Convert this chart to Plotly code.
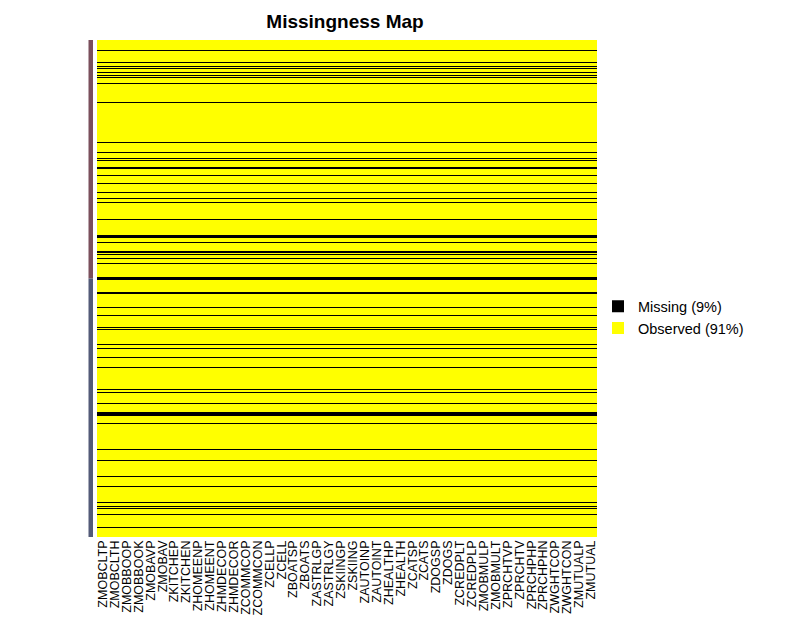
import plotly.graph_objects as go

columns = ["ZMOBCLTP", "ZMOBCLTH", "ZMOBBOOP", "ZMOBBOOK", "ZMOBAVP", "ZMOBAV",
           "ZKITCHEP", "ZKITCHEN", "ZHOMEENP", "ZHOMEENT", "ZHMDECOP", "ZHMDECOR",
           "ZCOMMCOP", "ZCOMMCON", "ZCELLP", "ZCELL", "ZBOATSP", "ZBOATS",
           "ZASTRLGP", "ZASTRLGY", "ZSKIINGP", "ZSKIING", "ZAUTOINP", "ZAUTOINT",
           "ZHEALTHP", "ZHEALTH", "ZCATSP", "ZCATS", "ZDOGSP", "ZDOGS",
           "ZCREDPLT", "ZCREDPLP", "ZMOBMULP", "ZMOBMULT", "ZPRCHTVP", "ZPRCHTV",
           "ZPRCHPHP", "ZPRCHPHN", "ZWGHTCOP", "ZWGHTCON", "ZMUTUALP", "ZMUTUAL"]

n_rows = 497

missing_rows = [10, 22, 26, 28, 32, 35, 37, 43, 62, 102,
                112, 118, 120, 127, 128, 135, 143, 152, 158, 162, 179,
                195, 196, 197, 202, 211, 212, 214, 218, 223, 237, 238, 239,
                252, 253, 267, 275, 287, 289, 304, 308, 317, 327, 349, 352, 363,
                372, 373, 374, 375, 383, 409, 420, 436, 446, 462, 466, 468, 474, 487]

legend_labels = ["Missing (9%)", "Observed (91%)"]
legend_colors = ["#000000", "#FFFF00"]

row_ids = list(range(n_rows))
missing_set = set(missing_rows)
z = [[1 if r in missing_set else 0 for _ in columns] for r in row_ids]

fig = go.Figure()
fig.add_trace(go.Heatmap(
    z=z, x=columns, y=row_ids,
    colorscale=[[0, "#FFFF00"], [0.5, "#FFFF00"], [0.5, "#000000"], [1, "#000000"]],
    zmin=0, zmax=1, showscale=False, hoverinfo="skip", xgap=0, ygap=0,
))

for lab, col in zip(legend_labels, legend_colors):
    fig.add_trace(go.Scatter(
        x=[None], y=[None], mode="markers", name=lab,
        marker=dict(symbol="square", size=11, color=col, line=dict(width=0)),
    ))

# thin row-label strip at left
fig.add_shape(type="rect", xref="paper", yref="paper", x0=-0.017, x1=-0.008, y0=0.52, y1=1.0,
              fillcolor="#7a4f5c", line=dict(width=0), layer="above")
fig.add_shape(type="rect", xref="paper", yref="paper", x0=-0.017, x1=-0.008, y0=0.0, y1=0.52,
              fillcolor="#535a78", line=dict(width=0), layer="above")

fig.update_layout(
    width=796, height=634,
    margin=dict(l=97, r=199, t=40, b=97),
    paper_bgcolor="white", plot_bgcolor="white",
    font=dict(family="Liberation Sans, Arial, sans-serif", color="#000000"),
    title=dict(text="<b>Missingness Map</b>", x=345 / 796, xanchor="center",
               y=1 - 21 / 634, yanchor="middle", font=dict(size=19, color="#000000")),
    showlegend=True,
    legend=dict(x=1.002, y=0.442, xanchor="left", yanchor="middle",
                font=dict(size=14.5, color="#000000"), bgcolor="rgba(0,0,0,0)",
                itemsizing="constant", tracegroupgap=0),
    xaxis=dict(tickangle=-90, tickmode="array", tickvals=columns, ticktext=columns,
               tickfont=dict(size=12.5, color="#000000"), showgrid=False,
               zeroline=False, ticks="", showline=False, fixedrange=True),
    yaxis=dict(autorange="reversed", showticklabels=False, showgrid=False, zeroline=False,
               ticks="", showline=False, fixedrange=True),
)

fig.write_html("out.html")
